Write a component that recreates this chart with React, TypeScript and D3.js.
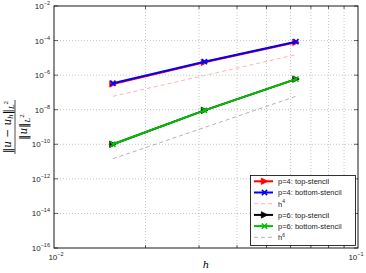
import React from 'react';
import * as d3 from 'd3';

// mesh sizes (h = 1/64, 1/32, 1/16)
const hValues = [0.015625, 0.03125, 0.0625];
const p4Top = [3.1e-7, 5.5e-6, 8.0e-5];
const p4Bottom = [3.4e-7, 6.0e-6, 8.6e-5];
const h4Ref = [5.96e-8, 9.54e-7, 1.53e-5];
const p6Top = [1.0e-10, 9.2e-9, 5.9e-7];
const p6Bottom = [1.0e-10, 9.2e-9, 5.9e-7];
const h6Ref = [1.46e-11, 9.31e-10, 5.96e-8];

const xTickMajor = [0.01, 0.1];
const xTickMinor = [0.02, 0.03, 0.04, 0.05, 0.06, 0.07, 0.08, 0.09];
const yTickExps = [-16, -14, -12, -10, -8, -6, -4, -2];

type Series = { name: string; sup?: string; values: number[]; color: string; width: number; dash?: string; marker?: 'tri' | 'x' };

const series: Series[] = [
  { name: 'p=4: top-stencil', values: p4Top, color: '#ff0000', width: 2, marker: 'tri' },
  { name: 'p=4: bottom-stencil', values: p4Bottom, color: '#0000ff', width: 2, marker: 'x' },
  { name: 'h', sup: '4', values: h4Ref, color: '#ff8080', width: 0.6, dash: '4,3' },
  { name: 'p=6: top-stencil', values: p6Top, color: '#000000', width: 2, marker: 'tri' },
  { name: 'p=6: bottom-stencil', values: p6Bottom, color: '#00c000', width: 2, marker: 'x' },
  { name: 'h', sup: '6', values: h6Ref, color: '#808080', width: 0.6, dash: '4,3' },
];

const Marker = ({ kind, x, y, color }: { kind?: string; x: number; y: number; color: string }) => {
  if (kind === 'tri') {
    const s = 3.2;
    return <path d={`M${x + s},${y} L${x - s},${y - s} L${x - s},${y + s} Z`} fill={color} stroke={color} strokeWidth={0.8} />;
  }
  if (kind === 'x') {
    const s = 2.6;
    return <path d={`M${x - s},${y - s} L${x + s},${y + s} M${x - s},${y + s} L${x + s},${y - s}`} stroke={color} strokeWidth={1.6} />;
  }
  return null;
};

const App = () => {
  const width = 366;
  const height = 273;
  const left = 54, right = 358, top = 6, bottom = 248;

  const x = d3.scaleLog().domain([0.01, 0.1]).range([left, right]);
  const y = d3.scaleLog().domain([1e-16, 1e-2]).range([bottom, top]);

  const line = d3.line<number>()
    .x((_, i) => x(hValues[i]))
    .y(d => y(d));

  const font = '"Liberation Sans", Arial, sans-serif';
  const serif = '"DejaVu Serif", "Liberation Serif", serif';
  const gridColor = '#b8b8b8';

  const legX = 250.5, legY = 175.5, legW = 105, legH = 70;
  const rowY = (i: number) => legY + 5.8 + i * 11.2;

  return (
    <svg width={width} height={height} style={{ position: 'absolute', left: 0, top: 0, background: '#fff' }}>
      {/* grid */}
      {xTickMinor.map(t => (
        <line key={'gx' + t} x1={x(t)} x2={x(t)} y1={top} y2={bottom} stroke={gridColor} strokeWidth={0.8} strokeDasharray="1,2" />
      ))}
      {yTickExps.slice(1, -1).map(e => (
        <line key={'gy' + e} x1={left} x2={right} y1={y(Math.pow(10, e))} y2={y(Math.pow(10, e))} stroke={gridColor} strokeWidth={0.8} strokeDasharray="1,2" />
      ))}

      {/* ticks */}
      {xTickMinor.map(t => (
        <g key={'tx' + t}>
          <line x1={x(t)} x2={x(t)} y1={bottom} y2={bottom - 3} stroke="#000" strokeWidth={0.6} />
          <line x1={x(t)} x2={x(t)} y1={top} y2={top + 3} stroke="#000" strokeWidth={0.6} />
        </g>
      ))}
      {yTickExps.map(e => (
        <g key={'ty' + e}>
          <line x1={left} x2={left + 4} y1={y(Math.pow(10, e))} y2={y(Math.pow(10, e))} stroke="#000" strokeWidth={0.6} />
          <line x1={right} x2={right - 4} y1={y(Math.pow(10, e))} y2={y(Math.pow(10, e))} stroke="#000" strokeWidth={0.6} />
        </g>
      ))}

      {/* series */}
      {series.map((s, i) => (
        <g key={'s' + i}>
          <path d={line(s.values) || ''} fill="none" stroke={s.color} strokeWidth={s.width} strokeDasharray={s.dash} />
          {s.values.map((v, j) => (
            <Marker key={j} kind={s.marker} x={x(hValues[j])} y={y(v)} color={s.color} />
          ))}
        </g>
      ))}

      {/* axes box */}
      <rect x={left} y={top} width={right - left} height={bottom - top} fill="none" stroke="#000" strokeWidth={0.9} />

      {/* y tick labels */}
      {yTickExps.map(e => (
        <text key={'ly' + e} x={left - 4} y={y(Math.pow(10, e)) + 3} textAnchor="end" fontFamily={font} fontSize={8} fill="#222">
          10<tspan dy={-4} fontSize={5.5}>{'\u2212' + Math.abs(e)}</tspan>
        </text>
      ))}
      {/* x tick labels */}
      {xTickMajor.map((t, i) => (
        <text key={'lx' + t} x={x(t) + (i === 0 ? 2 : -2)} y={bottom + 12} textAnchor="middle" fontFamily={font} fontSize={8} fill="#222">
          10<tspan dy={-4} fontSize={5.5}>{'\u2212' + Math.round(-Math.log10(t))}</tspan>
        </text>
      ))}

      {/* axis labels */}
      <text x={(left + right) / 2} y={268} textAnchor="middle" fontFamily={serif} fontStyle="italic" fontSize={10}>h</text>
      <g transform={`translate(15, ${(top + bottom) / 2}) rotate(-90)`} fontFamily={serif} fontSize={10.5}>
        <text x={0} y={-4} textAnchor="middle">
          <tspan fontStyle="normal">{'\u2016'}</tspan><tspan fontStyle="italic">u</tspan>
          <tspan>{' \u2212 '}</tspan><tspan fontStyle="italic">u</tspan>
          <tspan fontStyle="italic" fontSize={7} dy={2}>h</tspan>
          <tspan dy={-2}>{'\u2016'}</tspan>
          <tspan fontStyle="italic" fontSize={7} dy={3}>L</tspan>
          <tspan fontSize={5.5} dy={-6}>2</tspan>
        </text>
        <line x1={-27} x2={27} y1={0} y2={0} stroke="#000" strokeWidth={0.7} />
        <text x={0} y={12} textAnchor="middle">
          <tspan>{'\u2016'}</tspan><tspan fontStyle="italic">u</tspan>
          <tspan>{'\u2016'}</tspan>
          <tspan fontStyle="italic" fontSize={7} dy={3}>L</tspan>
          <tspan fontSize={5.5} dy={-6}>2</tspan>
        </text>
      </g>

      {/* legend */}
      <rect x={legX} y={legY} width={legW} height={legH} fill="#fff" stroke="#000" strokeWidth={0.8} />
      {series.map((s, i) => (
        <g key={'leg' + i}>
          <line x1={legX + 3.5} x2={legX + 22.5} y1={rowY(i)} y2={rowY(i)} stroke={s.color} strokeWidth={s.width} strokeDasharray={s.dash} />
          <Marker kind={s.marker} x={legX + 14} y={rowY(i)} color={s.color} />
          <text x={legX + 27.5} y={rowY(i) + 2.8} fontFamily={font} fontSize={7.5} fill="#222">
            {s.name}
            {s.sup && <tspan dy={-3.5} fontSize={5}>{s.sup}</tspan>}
          </text>
        </g>
      ))}
    </svg>
  );
};

export default App;
